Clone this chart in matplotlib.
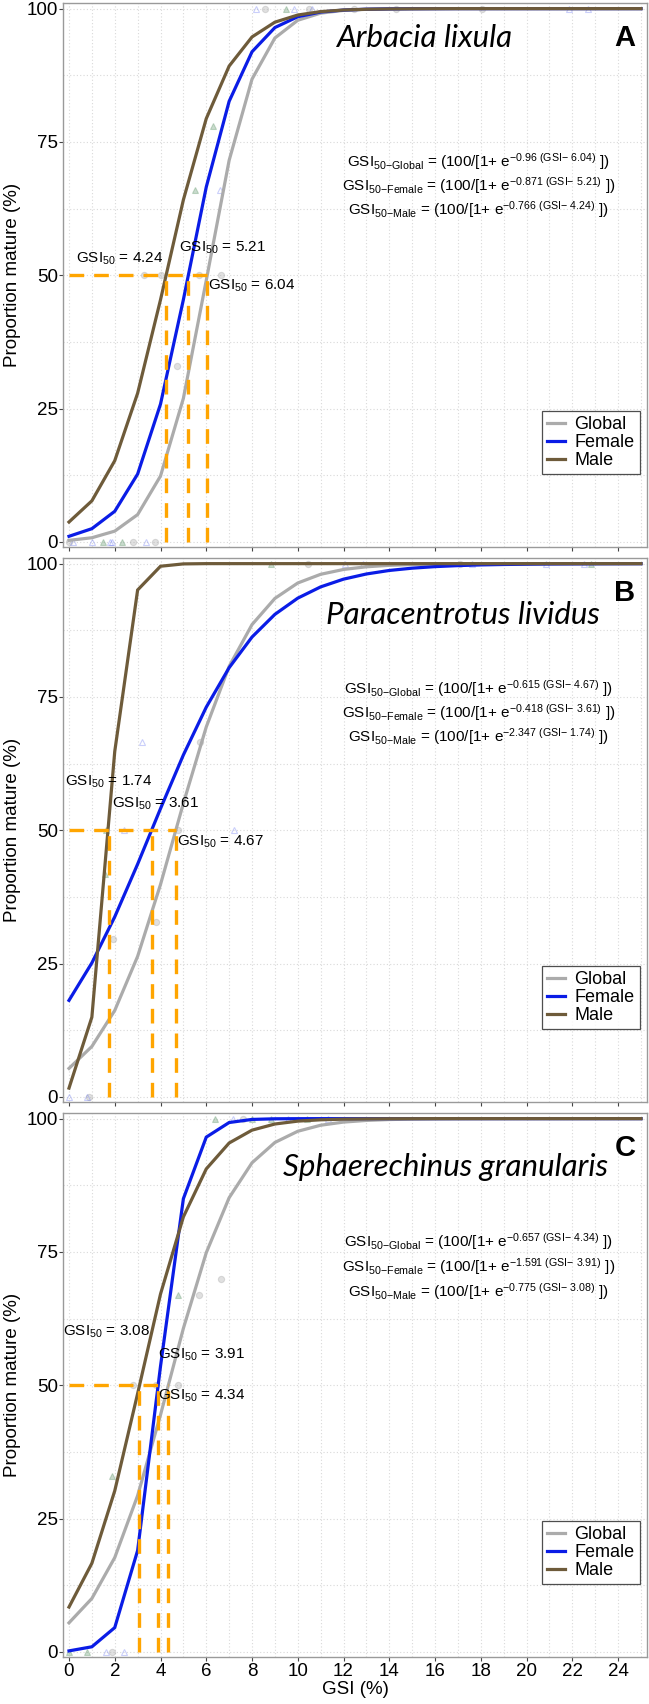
import matplotlib
matplotlib.use("Agg")
import matplotlib.pyplot as plt
from matplotlib.lines import Line2D
from matplotlib.ticker import MultipleLocator

plt.rcParams["font.family"] = ["Liberation Sans", "DejaVu Sans"]
plt.rcParams["mathtext.fontset"] = "custom"
plt.rcParams["mathtext.rm"] = "Liberation Sans"
plt.rcParams["mathtext.it"] = "Liberation Sans:italic"
plt.rcParams["mathtext.bf"] = "Liberation Sans:bold"

# =============================================================================
# DATA  (fitted logistic curves evaluated at integer GSI)
# =============================================================================
gsi = [0, 1, 2, 3, 4, 5, 6, 7, 8, 9, 10, 11, 12, 13, 14, 15, 16, 17, 18, 19, 20, 21, 22, 23, 24, 25]

a_global = [0.30, 0.79, 2.03, 5.13, 12.36, 26.93, 49.05, 71.55, 86.78, 94.49, 97.82, 99.15, 99.67,
            99.87, 99.95, 99.98, 99.99, 100, 100, 100, 100, 100, 100, 100, 100, 100]
a_female = [1.06, 2.49, 5.75, 12.73, 25.85, 45.44, 66.55, 82.62, 91.91, 96.45, 98.48, 99.36, 99.73,
            99.89, 99.95, 99.98, 99.99, 100, 100, 100, 100, 100, 100, 100, 100, 100]
a_male = [3.74, 7.71, 15.24, 27.89, 45.41, 64.15, 79.38, 89.23, 94.69, 97.46, 98.80, 99.44, 99.74,
          99.88, 99.94, 99.97, 99.99, 100, 100, 100, 100, 100, 100, 100, 100, 100]

b_global = [5.36, 9.47, 16.22, 26.37, 39.84, 55.06, 69.38, 80.74, 88.57, 93.48, 96.37, 98.00, 98.91,
            99.41, 99.68, 99.83, 99.91, 99.95, 99.97, 99.99, 99.99, 100, 100, 100, 100, 100]
b_female = [18.11, 25.14, 33.78, 43.66, 54.07, 64.13, 73.09, 80.49, 86.24, 90.49, 93.53, 95.64, 97.09,
            98.06, 98.72, 99.15, 99.44, 99.63, 99.76, 99.84, 99.89, 99.93, 99.95, 99.97, 99.98, 99.99]
b_male = [1.66, 14.97, 64.79, 95.06, 99.51, 99.95, 100, 100, 100, 100, 100, 100, 100,
          100, 100, 100, 100, 100, 100, 100, 100, 100, 100, 100, 100, 100]

c_global = [5.46, 10.03, 17.70, 29.32, 44.45, 60.68, 74.86, 85.17, 91.72, 95.53, 97.63, 98.76, 99.35,
            99.66, 99.83, 99.91, 99.95, 99.98, 99.99, 100, 100, 100, 100, 100, 100, 100]
c_female = [0.20, 0.97, 4.57, 19.03, 53.57, 84.99, 96.53, 99.27, 99.85, 99.97, 99.99, 100, 100,
            100, 100, 100, 100, 100, 100, 100, 100, 100, 100, 100, 100, 100]
c_male = [8.42, 16.63, 30.22, 48.45, 67.11, 81.58, 90.57, 95.43, 97.84, 98.99, 99.53, 99.78, 99.90,
          99.95, 99.98, 99.99, 100, 100, 100, 100, 100, 100, 100, 100, 100, 100]

# GSI50 and slope per group (Global, Female, Male)
a_gsi50 = [6.04, 5.21, 4.24]
a_slope = [0.96, 0.871, 0.766]
b_gsi50 = [4.67, 3.61, 1.74]
b_slope = [0.615, 0.418, 2.347]
c_gsi50 = [4.34, 3.91, 3.08]
c_slope = [0.657, 1.591, 0.775]

# observed (faint) points
a_obs_global_x = [0, 2.81, 3.77, 4.74, 3.3, 4.0, 5.68, 6.65, 8.55, 10.5, 12.46, 14.3, 18.06]
a_obs_global_y = [0, 0, 0, 33, 50, 50, 50, 50, 100, 100, 100, 100, 100]
a_obs_female_x = [0.19, 0.99, 1.8, 1.87, 3.37, 6.6, 8.18, 9.82, 10.6, 21.85, 22.67]
a_obs_female_y = [0, 0, 0, 0, 0, 66, 100, 100, 100, 100, 100]
a_obs_male_x = [1.5, 2.3, 5.51, 6.28, 9.49]
a_obs_male_y = [0, 0, 66, 78, 100]

b_obs_global_x = [0.89, 1.94, 3.8, 4.78, 5.73, 10.45, 17.1]
b_obs_global_y = [0, 29.7, 32.8, 50, 66.6, 100, 100]
b_obs_female_x = [0, 0.8, 2.42, 3.2, 7.21, 12.05, 12.87, 17.6, 20.86, 22.5]
b_obs_female_y = [0, 0, 50, 66.6, 50, 100, 100, 100, 100, 100]
b_obs_male_x = [1.57, 1.62, 8.83, 22.8]
b_obs_male_y = [41.8, 50, 100, 100]

c_obs_global_x = [1.9, 2.81, 3.79, 4.75, 5.69, 6.63, 7.6]
c_obs_global_y = [0, 50, 50, 50, 67, 70, 100]
c_obs_female_x = [1.6, 2.4, 7.18, 9.58, 11.3]
c_obs_female_y = [0, 0, 100, 100, 100]
c_obs_male_x = [0, 0.8, 1.9, 4.78, 6.36, 8.0, 8.83, 10.4]
c_obs_male_y = [0, 0, 33, 67, 100, 100, 100, 100]

groups = ["Global", "Female", "Male"]
species = ["Arbacia lixula", "Paracentrotus lividus", "Sphaerechinus granularis"]
letters = ["A", "B", "C"]

# =============================================================================
# STYLE
# =============================================================================
COLORS = {"Global": "#ABABAB", "Female": "#0A1CE6", "Male": "#6E5B3A"}
OBS_COLORS = {"Global": "#9A9A9A", "Female": "#5060F0", "Male": "#4E8A5A"}
ORANGE = "#FFA500"
BORDER = "#9A9A9A"
GRID = "#D9D9D9"

# label centres for the GSI50 annotations (Global, Female, Male)
LABEL_POS = [
    [(8.0, 48.0), (6.7, 55.1), (2.2, 53.1)],
    [(6.62, 47.9), (3.79, 55.0), (1.72, 59.0)],
    [(5.8, 48.0), (5.78, 55.8), (1.65, 60.0)],
]
EQ_Y = [(71.4, 66.8, 62.3), (76.5, 72.1, 67.6), (77.0, 72.3, 67.6)]
TITLE_POS = [(15.5, 94.4), (17.2, 90.3), (16.45, 91.0)]

panels = [
    dict(curves=[a_global, a_female, a_male], gsi50=a_gsi50, slope=a_slope,
         obs=[(a_obs_global_x, a_obs_global_y), (a_obs_female_x, a_obs_female_y), (a_obs_male_x, a_obs_male_y)]),
    dict(curves=[b_global, b_female, b_male], gsi50=b_gsi50, slope=b_slope,
         obs=[(b_obs_global_x, b_obs_global_y), (b_obs_female_x, b_obs_female_y), (b_obs_male_x, b_obs_male_y)]),
    dict(curves=[c_global, c_female, c_male], gsi50=c_gsi50, slope=c_slope,
         obs=[(c_obs_global_x, c_obs_global_y), (c_obs_female_x, c_obs_female_y), (c_obs_male_x, c_obs_male_y)]),
]


def equation(group, slope, g50):
    return (r"$\mathrm{GSI}_{\mathrm{50{-}%s}}$ = (100/[1+ e$^{{-}%s\ (\mathrm{GSI}{-}\ %s)}$ ])"
            % (group, f"{slope:g}", f"{g50:.2f}"))


def draw_panel(ax, idx, p, last):
    # faint observations
    markers = {"Global": dict(marker="o", mfc=OBS_COLORS["Global"]),
               "Female": dict(marker="^", mfc="none"),
               "Male": dict(marker="^", mfc=OBS_COLORS["Male"])}
    for g, (ox, oy) in zip(groups, p["obs"]):
        ax.plot(ox, oy, ls="none", ms=4.5, mew=0.8, mec=OBS_COLORS[g], alpha=0.3,
                zorder=2, **markers[g])

    for g, ys in zip(groups, p["curves"]):
        ax.plot(gsi, ys, color=COLORS[g], lw=2.3, zorder=3, solid_joinstyle="miter")

    # orange GSI50 guides
    dash = (0, (4.4, 3.0))
    ax.plot([0, max(p["gsi50"])], [50, 50], color=ORANGE, lw=2.4, ls=dash, zorder=4)
    for g50 in p["gsi50"]:
        ax.plot([g50, g50], [0, 50], color=ORANGE, lw=2.4, ls=dash, zorder=4)

    for g50, (lx, ly) in zip(p["gsi50"], LABEL_POS[idx]):
        ax.text(lx, ly, r"$\mathrm{GSI}_{50}$ = %.2f" % g50, ha="center", va="center",
                fontsize=11, zorder=5)

    for g, s, g50, ey in zip(groups, p["slope"], p["gsi50"], EQ_Y[idx]):
        ax.text(17.9, ey, equation(g, s, g50), ha="center", va="center", fontsize=11, zorder=5)

    tx, ty = TITLE_POS[idx]
    ax.text(tx, ty, species[idx], ha="center", va="center", fontsize=22.5,
            family="Lato", style="italic")
    ax.text(24.3, 94.4, letters[idx], ha="center", va="center", fontsize=21, fontweight="bold")

    ax.set_xlim(-0.25, 25.25)
    ax.set_ylim(-1, 101)
    ax.xaxis.set_major_locator(MultipleLocator(2))
    ax.xaxis.set_minor_locator(MultipleLocator(1))
    ax.yaxis.set_major_locator(MultipleLocator(25))
    ax.yaxis.set_minor_locator(MultipleLocator(12.5))
    ax.grid(which="both", color=GRID, ls=(0, (1, 2)), lw=0.8, zorder=0)
    ax.set_axisbelow(True)
    ax.tick_params(which="major", length=3, width=0.8, color="#444444", labelsize=13.5, pad=1)
    ax.tick_params(which="minor", length=0)
    ax.tick_params(axis="x", labelbottom=last)
    for sp in ax.spines.values():
        sp.set_color(BORDER)
        sp.set_linewidth(1.0)
    ax.set_ylabel("Proportion mature (%)", fontsize=13.5, labelpad=4)
    if last:
        ax.set_xlabel("GSI (%)", fontsize=13.5, labelpad=1)

    handles = [Line2D([], [], color=COLORS[g], lw=2.3) for g in groups]
    leg = ax.legend(handles, groups, loc="lower right", bbox_to_anchor=(0.988, 0.134),
                    fontsize=13, frameon=True, fancybox=False, handlelength=1.0,
                    handletextpad=0.5, labelspacing=0.05, borderpad=0.3, borderaxespad=0)
    leg.get_frame().set_edgecolor("#222222")
    leg.get_frame().set_linewidth(0.9)


fig = plt.figure(figsize=(6.49, 17.04), dpi=100)
left, width, height = 0.0975, 0.8989, 0.31925
bottoms = [0.67882, 0.35311, 0.02741]
for i, p in enumerate(panels):
    ax = fig.add_axes([left, bottoms[i], width, height])
    draw_panel(ax, i, p, i == 2)

fig.savefig("out.png", dpi=100, facecolor="white")
